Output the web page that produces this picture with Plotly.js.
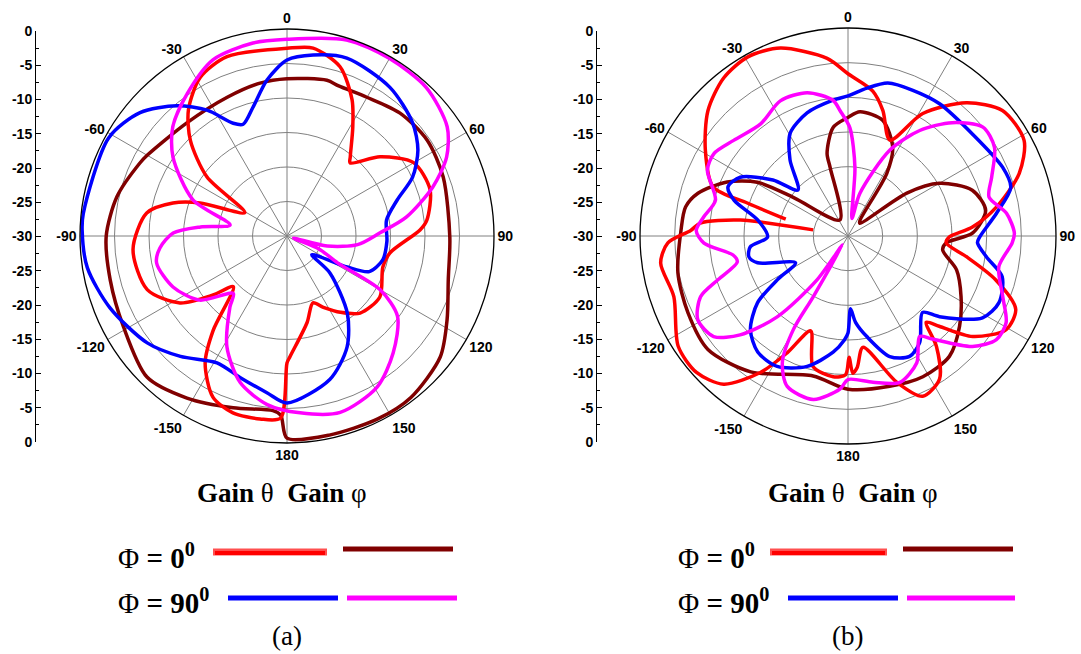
<!DOCTYPE html>
<html>
<head>
<meta charset="utf-8">
<script src="https://cdn.plot.ly/plotly-3.0.1.min.js"></script>
<style>html,body{margin:0;padding:0;background:#fff;}#chart{width:1081px;height:654px;}</style>
</head>
<body>
<div id="chart"></div>
<script>
// ---------- angular / radial tick data ----------
const angleTickVals = [0, 30, 60, 90, 120, 150, 180, 210, 240, 270, 300, 330];
const angleTickText = ['0', '30', '60', '90', '120', '150', '180', '-150', '-120', '-90', '-60', '-30'];
const radialGridVals = [-25, -20, -15, -10, -5];
const sideTickVals = [0, 5, 10, 15, 20, 25, 30, 35, 40, 45, 50, 55, 60];
const sideTickText = ['0', '-5', '-10', '-15', '-20', '-25', '-30', '-25', '-20', '-15', '-10', '-5', '0'];

// ---------- chart (a) ----------
const aRedTheta = [0, 7.9, 17.4, 25.5, 31.2, 38.6, 40.8, 49.6, 59.9, 72, 83.5, 87.4, 99.4, 107.9, 123.3, 136.5, 145, 153, 158.8, 167, 178.6, 180, 182, 188.4, 197, 204.7, 212.8, 218, 226.6, 231.4, 238, 249, 265, 279.3, 286.1, 290.8, 299, 306.4, 314.7, 322, 331.3, 341.5, 360];
const aRedR = [-2.8, -2.5, -4.3, -8.1, -11.6, -15.3, -16, -12.3, -8.8, -8.2, -9.6, -10.7, -14.9, -15.4, -13.9, -14.6, -16.5, -18.4, -19.6, -17.1, -12.5, -11.6, -3.6, -3.2, -3.2, -4.3, -8.1, -12.6, -19.3, -16.3, -11.7, -8.3, -7.6, -9.4, -12.8, -16.5, -23, -15.6, -10.3, -6.8, -3.8, -2.6, -2.8];

const aDarkTheta = [0, 14.4, 19, 29.9, 42.6, 55.6, 69.3, 90.5, 105, 117.7, 128.3, 142.5, 153.6, 168, 180, 182, 184.6, 197.4, 211.7, 224.8, 241, 256, 270, 283, 296.4, 300, 318.5, 336.7, 350, 360];
const aDarkR = [-7.2, -6.7, -7.0, -6.8, -5.8, -5.4, -5.8, -6.4, -5.8, -3.8, -1.7, -0.5, -0.4, -0.5, -0.7, -4.0, -4.6, -3.9, -2.4, -1.2, -2.9, -3.6, -3.8, -4.7, -6.2, -6.6, -8.1, -8.1, -7.5, -7.2];

const aBlueTheta = [0, 8.2, 18.6, 34.7, 48, 56.7, 64.9, 71.9, 81, 93, 104, 113.4, 117.3, 127, 130.7, 142, 151.6, 163.4, 180, 187.3, 198.4, 208.9, 221.5, 232.6, 248, 261, 271.6, 276.3, 298.8, 310, 319.8, 327.6, 334.5, 338.6, 345.2, 352.7, 360];
const aBlueR = [-4.5, -3.5, -2.8, -3.8, -5.5, -7.3, -9.9, -13.2, -15.4, -15.5, -15.7, -17, -20.2, -25.5, -21.8, -15.8, -11.7, -8.3, -5.8, -7.1, -8.4, -9.0, -6.7, -4.5, -2.3, -0.7, -0.3, -0.3, -0.5, -2.2, -5.3, -8.4, -11.9, -12.6, -10.7, -7.2, -4.5];

const aMagTheta = [0, 16.9, 29.9, 43.2, 55.7, 63.7, 71.4, 81, 88, 97, 104, 108, 112, 118, 120, 126, 137.8, 149.2, 163.2, 175.8, 186.7, 197.7, 208.4, 218.8, 223, 233.7, 245.9, 258.3, 264.6, 271.5, 276, 281, 291, 304.7, 313.7, 325, 337.2, 350, 360];
const aMagR = [-1.5, -0.3, -0.3, -0.5, -1.9, -4.2, -7.7, -12.5, -16.5, -19.7, -24, -29, -25, -21.7, -14.4, -10.2, -7.1, -4.5, -3.3, -4.3, -5.4, -7.7, -11.7, -16.8, -18.6, -14.3, -11.9, -10.7, -11.5, -13.5, -17.4, -21.6, -15.4, -9.9, -7.1, -4.8, -2.3, -1.6, -1.5];

// ---------- chart (b) ----------
const bRedTheta = [-74.9, -71.9, -70, -59, -48.2, -38.2, -29.2, -19.8, -6.7, 0, 9.7, 15.5, 23.6, 31.4, 41.6, 50.9, 61.5, 69.9, 79, 85.9, 90.6, 94, 100, 106.5, 113.6, 120.6, 128.9, 134.7, 137.8, 141.3, 147.4, 155, 161.6, 172.4, 176, 178, 179.5, 181, 186, 195, 201.5, 207.5, 212.7, 220, 228, 237, 250.8, 261.8, 267.8, 272, 275, 278.4, 280];
const bRedR = [-20.7, -14.8, -9.3, -6, -2.9, -1, -0.4, -1.2, -4.2, -6.6, -8.8, -11.2, -14.9, -9.3, -4.3, -1.3, -1.1, -3.7, -8.2, -12, -15.4, -15.8, -12.6, -7.8, -3.6, -3.5, -6.9, -11.5, -13.2, -9.6, -5.5, -4.5, -7.8, -13.8, -11, -10.2, -12.5, -10, -9.6, -10.5, -15.3, -11, -6.6, -2.1, -0.6, -0.8, -3.4, -2.7, -4, -7.3, -8.6, -14.3, -24.9];

const bDarkTheta = [0, 5.5, 16.8, 26.8, 31.8, 37, 42.7, 53.9, 60, 69.8, 79.4, 88.6, 94, 98.4, 107.3, 118.2, 129, 139.9, 152, 164.5, 180, 194, 215.6, 231, 244.4, 257.8, 272, 280.1, 285.9, 294.1, 300.7, 305.3, 333.4, 345.4, 345.8, 352.2, 360];
const bDarkR = [-12.9, -12, -12.6, -15.7, -19.4, -27.1, -27.5, -19.5, -14.8, -10.9, -9.8, -12, -15.8, -16.2, -13.6, -11.5, -9.3, -7.3, -7, -7.5, -7.9, -9.2, -5.9, -4, -4.4, -4.9, -5.9, -6.2, -7.5, -10.9, -14.8, -20.4, -27.4, -19.8, -17.7, -14.2, -12.9];

const bBlueTheta = [0, 7.3, 14.6, 24, 34.7, 50.5, 66, 73.4, 81.2, 90.4, 93, 98.6, 104.8, 113.8, 121.3, 131.4, 135.7, 146, 152.9, 160.9, 169.3, 175, 178, 180, 182, 187.3, 197.4, 208.5, 217.9, 226.2, 233.6, 238.2, 243, 253.5, 258.1, 263.6, 269.3, 280, 287.4, 292.2, 298.6, 306.7, 312.6, 322.7, 330.6, 341.6, 353.7, 360];
const bBlueR = [-9.8, -8.5, -7.2, -7, -6.8, -6.8, -5.6, -5.5, -8.3, -11, -11.3, -9.8, -7, -6.2, -7.3, -12.4, -14.6, -11.5, -10.5, -11.6, -15.2, -17.5, -19.5, -16, -15, -13.1, -10.3, -8.6, -8.8, -10.5, -13.8, -18, -21.5, -16.4, -15.4, -15.8, -18.4, -16.8, -12.8, -11.3, -12.3, -16.5, -20.2, -16.2, -13, -11.3, -10.3, -9.8];

const bMagTheta = [12.5, 15.6, 26, 34.2, 42.6, 51.1, 58.8, 67.7, 74.6, 81.8, 89, 92.4, 101.5, 111.5, 118.7, 124.9, 131.6, 140.7, 144.5, 151.5, 160.5, 170.3, 180, 183, 192, 202, 207.5, 210.3, 209.8, 212, 215.2, 221.2, 227.5, 233.2, 240.9, 247.6, 251.4, 256.8, 260.6, 267.2, 272, 277.5, 285.1, 295.1, 301.6, 309.9, 322.1, 333.4, 344.1, 353.7, 356.4, 361, 365.8, 372.5];
const bMagR = [-27.4, -23.6, -16.2, -11.6, -7.8, -5, -5.3, -7.6, -8.9, -6.9, -6, -6.3, -7.8, -6, -4, -3.9, -6, -10.8, -12.2, -9.2, -7.6, -8.6, -9.3, -7.9, -5.9, -6.6, -9.5, -14.4, -19.9, -28.5, -22.3, -14.5, -8.9, -5.8, -5.2, -7, -10.2, -13.6, -13.2, -9.2, -8.1, -9, -10.2, -7.6, -7.3, -8.5, -9.5, -8.2, -8.5, -10.3, -11.9, -14.4, -20.1, -27.4];

// ---------- colours ----------
const cRed = '#ff0000', cDark = '#800000', cBlue = '#0000ff', cMag = '#ff00ff';

// ---------- helpers (layout only) ----------
const W = 1081, H = 654;
const fx = x => x / W;
const fy = y => 1 - y / H;
const bold = arr => arr.map(t => '<b>' + t + '</b>');

function polarTrace(theta, r, color, sub) {
  return {
    type: 'scatterpolar', subplot: sub, theta: theta, r: r, mode: 'lines',
    line: {color: color, width: 3.5, shape: 'spline', smoothing: 0.8},
    hoverinfo: 'skip', showlegend: false
  };
}

const traces = [
  polarTrace(aDarkTheta, aDarkR, cDark, 'polar'),
  polarTrace(aRedTheta, aRedR, cRed, 'polar'),
  polarTrace(aBlueTheta, aBlueR, cBlue, 'polar'),
  polarTrace(aMagTheta, aMagR, cMag, 'polar'),
  polarTrace(bDarkTheta, bDarkR, cDark, 'polar2'),
  polarTrace(bRedTheta, bRedR, cRed, 'polar2'),
  polarTrace(bBlueTheta, bBlueR, cBlue, 'polar2'),
  polarTrace(bMagTheta, bMagR, cMag, 'polar2'),
  {type: 'scatter', x: [0.5], y: [30], mode: 'markers', marker: {opacity: 0}, xaxis: 'x', yaxis: 'y', hoverinfo: 'skip', showlegend: false},
  {type: 'scatter', x: [0.5], y: [30], mode: 'markers', marker: {opacity: 0}, xaxis: 'x2', yaxis: 'y2', hoverinfo: 'skip', showlegend: false}
];

const tickFont = {family: 'Liberation Sans, Arial, sans-serif', size: 14, color: '#000'};

function polarLayout(cx, cy, R) {
  return {
    domain: {x: [fx(cx - R), fx(cx + R)], y: [fy(cy + R), fy(cy - R)]},
    bgcolor: 'rgba(0,0,0,0)',
    angularaxis: {
      rotation: 90, direction: 'clockwise',
      tickmode: 'array', tickvals: angleTickVals, ticktext: bold(angleTickText),
      ticks: '', showline: true, linecolor: '#000', linewidth: 1.3,
      showgrid: true, gridcolor: '#808080', gridwidth: 1,
      tickfont: tickFont
    },
    radialaxis: {
      range: [-30, 0], tickmode: 'array', tickvals: radialGridVals,
      showticklabels: false, ticks: '', showline: false,
      showgrid: true, gridcolor: '#808080', gridwidth: 1
    }
  };
}

function sideAxis(xPos, domTop, domBot) {
  return {
    domain: [fy(domBot), fy(domTop)], range: [0, 60], anchor: 'free', position: fx(xPos),
    side: 'left', tickmode: 'array', tickvals: sideTickVals, ticktext: bold(sideTickText),
    ticks: 'inside', ticklen: 5, tickwidth: 1, tickcolor: '#000',
    minor: {dtick: 2.5, tick0: 0, ticks: 'inside', ticklen: 3, tickcolor: '#000', showgrid: false},
    showline: true, linecolor: '#000', linewidth: 1.3,
    showgrid: false, zeroline: false, tickfont: tickFont, fixedrange: true
  };
}

const serif = 'Liberation Serif, Times New Roman, serif';
const nb = '\u00A0';

function ann(text, x, y, xanchor, size) {
  return {text: text, x: fx(x), y: fy(y), xref: 'paper', yref: 'paper', xanchor: xanchor, yanchor: 'middle',
          showarrow: false, font: {family: serif, size: size, color: '#000'}};
}

function seg(x0, x1, y, color, width) {
  return {type: 'line', xref: 'paper', yref: 'paper', x0: fx(x0), x1: fx(x1), y0: fy(y), y1: fy(y),
          line: {color: color, width: width}};
}

const gainText = '<b>Gain</b>' + nb + 'θ' + nb + nb + '<b>Gain</b>' + nb + 'φ';
const phi0 = 'Φ' + nb + '<b>=' + nb + '0<sup>0</sup></b>';
const phi90 = 'Φ' + nb + '<b>=' + nb + '90<sup>0</sup></b>';

const layout = {
  width: W, height: H, margin: {l: 0, r: 0, t: 0, b: 0},
  paper_bgcolor: '#fff', plot_bgcolor: 'rgba(0,0,0,0)', showlegend: false,
  font: {family: 'Liberation Sans, Arial, sans-serif', color: '#000'},
  polar: polarLayout(287, 236, 207),
  polar2: polarLayout(848, 236, 208),
  xaxis: {domain: [0, 0.004], range: [0, 1], visible: false, fixedrange: true, anchor: 'y'},
  yaxis: sideAxis(35, 31, 442),
  xaxis2: {domain: [0.55, 0.554], range: [0, 1], visible: false, fixedrange: true, anchor: 'y2'},
  yaxis2: sideAxis(596, 31, 442),
  annotations: [
    ann(gainText, 282, 493, 'center', 27),
    ann(gainText, 853, 493, 'center', 27),
    ann(phi0, 116, 556, 'left', 29),
    ann(phi90, 116, 601, 'left', 29),
    ann(phi0, 676, 556, 'left', 29),
    ann(phi90, 676, 601, 'left', 29),
    ann('(a)', 287, 636, 'center', 27),
    ann('(b)', 847, 636, 'center', 27)
  ],
  shapes: [
    seg(213, 327, 552, '#ff5050', 7), seg(215, 325, 553, cRed, 4),
    seg(343, 453, 549, cDark, 5),
    seg(228, 338, 598, cBlue, 5),
    seg(347, 457, 598, cMag, 5),
    seg(770, 887, 552, '#ff5050', 7), seg(772, 885, 553, cRed, 4),
    seg(903, 1013, 549, cDark, 5),
    seg(788, 898, 598, cBlue, 5),
    seg(907, 1015, 598, cMag, 5)
  ]
};

Plotly.newPlot('chart', traces, layout, {displayModeBar: false, staticPlot: true});
</script>
</body>
</html>
